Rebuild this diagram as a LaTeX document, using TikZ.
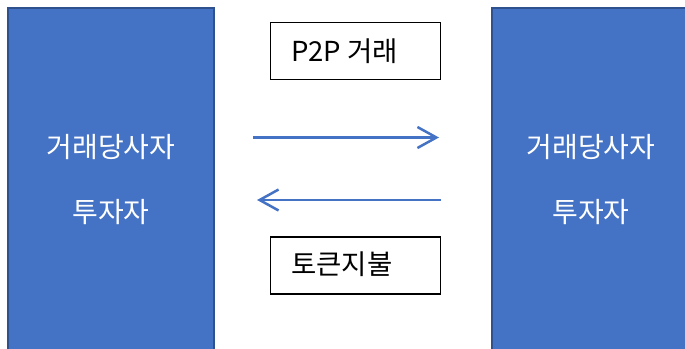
\documentclass[tikz,border=0pt]{standalone}
\usepackage{fontspec}
\setmainfont{Noto Sans CJK KR}
\usetikzlibrary{arrows.meta}
\definecolor{fillblue}{HTML}{4472C4}
\definecolor{edgeblue}{HTML}{2F528F}
\tikzset{
  party/.style={draw=edgeblue, line width=1.5pt, fill=fillblue, text=white,
    align=center, inner sep=0pt, font=\fontsize{28}{65}\selectfont},
  labelbox/.style={draw=black, line width=1.6pt, minimum width=170pt, minimum height=57pt, inner sep=0pt},
  labeltext/.style={anchor=west, inner sep=0pt, font=\fontsize{27.5}{30}\selectfont},
  flow/.style={draw=fillblue, line width=2.5pt, -{Straight Barb[length=19pt, width=21pt, line width=2.5pt]}}
}
\begin{document}
\begin{tikzpicture}[x=1pt, y=-1pt]
\useasboundingbox (0,0) rectangle (685,348);
\node[party, minimum width=206pt, minimum height=344pt] (L) at (111,180) {거래당사자\\투자자};
\node[party, minimum width=198pt, minimum height=344pt] (R) at (591,180) {거래당사자\\투자자};
\node[labelbox] (B1) at (355.5,51) {};
\node[labeltext] (T1) at (291,51) {P2P 거래};
\node[labelbox] (B2) at (355.5,265.5) {};
\node[labeltext] (T2) at (291,264.5) {토큰지불};
\coordinate (a1s) at (253,137.5);
\coordinate (a1e) at (439,137.5);
\coordinate (a2s) at (440.7,200);
\coordinate (a2e) at (257,200);
\draw[flow] (a1s) -- (a1e);
\draw[flow] (a2s) -- (a2e);
\end{tikzpicture}
\end{document}
